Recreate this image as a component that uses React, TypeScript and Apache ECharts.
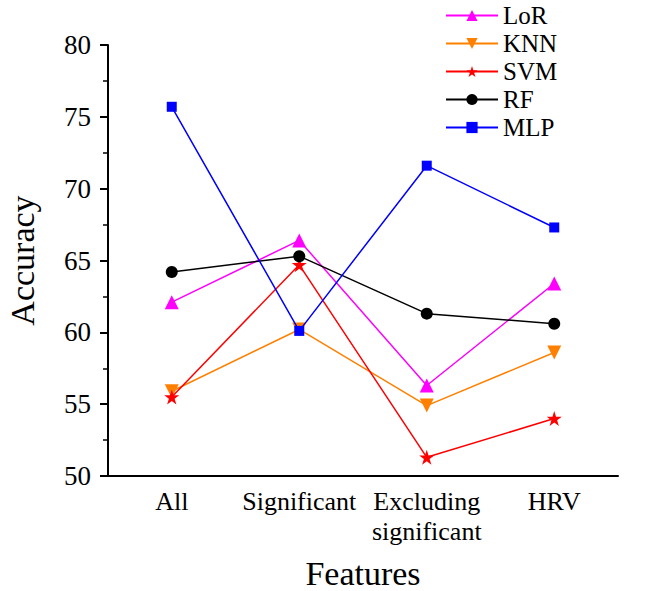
import React, { useEffect, useRef } from "react";
import * as echarts from "echarts";

const categories = ["All", "Significant", "Excluding\nsignificant", "HRV"];
const seriesNames = ["LoR", "KNN", "SVM", "RF", "MLP"];
const lorValues = [62.1, 66.4, 56.3, 63.4];
const knnValues = [55.9, 60.2, 54.9, 58.6];
const svmValues = [55.5, 64.7, 51.3, 54.0];
const rfValues = [64.2, 65.3, 61.3, 60.6];
const mlpValues = [75.7, 60.1, 71.6, 67.3];

const colors = ["#ff00ff", "#ff8000", "#ff0000", "#000000", "#0000ff"];
const STAR =
  "path://M50,0 L61.8,35.4 L100,35.4 L69.1,57.3 L80.9,92.7 L50,70.8 L19.1,92.7 L30.9,57.3 L0,35.4 L38.2,35.4 Z";
const TRI_DOWN = "path://M0,0 L100,0 L50,86 Z";
const symbols = ["triangle", TRI_DOWN, STAR, "circle", "rect"];
const symbolSizes = [14, 14, 15, 12, 10];
const allValues = [lorValues, knnValues, svmValues, rfValues, mlpValues];

const FONT = "'Liberation Serif', 'Times New Roman', serif";

export default function App() {
  const ref = useRef<HTMLDivElement>(null);
  useEffect(() => {
    document.body.style.margin = "0";
    const chart = echarts.init(ref.current!, undefined, { renderer: "svg" });
    chart.setOption({
      animation: false,
      backgroundColor: "#ffffff",
      grid: { left: 108, right: 30, top: 45, bottom: 115, outerBoundsMode: "none", containLabel: false },
      legend: {
        orient: "vertical",
        left: 440,
        top: -2,
        itemWidth: 52,
        itemHeight: 14,
        itemGap: 3,
        textStyle: { fontFamily: FONT, fontSize: 25, color: "#000" },
        data: seriesNames,
      },
      xAxis: {
        type: "category",
        data: categories,
        boundaryGap: true,
        name: "Features",
        nameLocation: "middle",
        nameGap: 80,
        nameTextStyle: { fontFamily: FONT, fontSize: 34, color: "#000" },
        axisLine: { lineStyle: { color: "#000", width: 2 } },
        axisTick: { alignWithLabel: true, length: 8, lineStyle: { color: "#000", width: 2 } },
        axisLabel: { fontFamily: FONT, fontSize: 26, color: "#000", margin: 10, lineHeight: 30, interval: 0 },
        splitLine: { show: false },
      },
      yAxis: {
        type: "value",
        min: 50,
        max: 80,
        interval: 5,
        name: "Accuracy",
        nameLocation: "middle",
        nameGap: 69,
        nameTextStyle: { fontFamily: FONT, fontSize: 34, color: "#000" },
        axisLine: { show: true, lineStyle: { color: "#000", width: 2 } },
        axisTick: { show: true, length: 8, lineStyle: { color: "#000", width: 2 } },
        minorTick: { show: true, splitNumber: 2, length: 5, lineStyle: { color: "#000", width: 1.5 } },
        axisLabel: { fontFamily: FONT, fontSize: 27, color: "#000", margin: 17 },
        splitLine: { show: false },
      },
      series: seriesNames.map((name, i) => ({
        name,
        type: "line",
        data: allValues[i],
        symbol: symbols[i],
        symbolSize: symbolSizes[i],
        showAllSymbol: true,
        itemStyle: { color: colors[i] },
        lineStyle: { color: colors[i], width: 1.5 },
        z: 2 + i,
      })),
    });
    return () => chart.dispose();
  }, []);
  return <div ref={ref} style={{ width: 648, height: 591 }} />;
}
